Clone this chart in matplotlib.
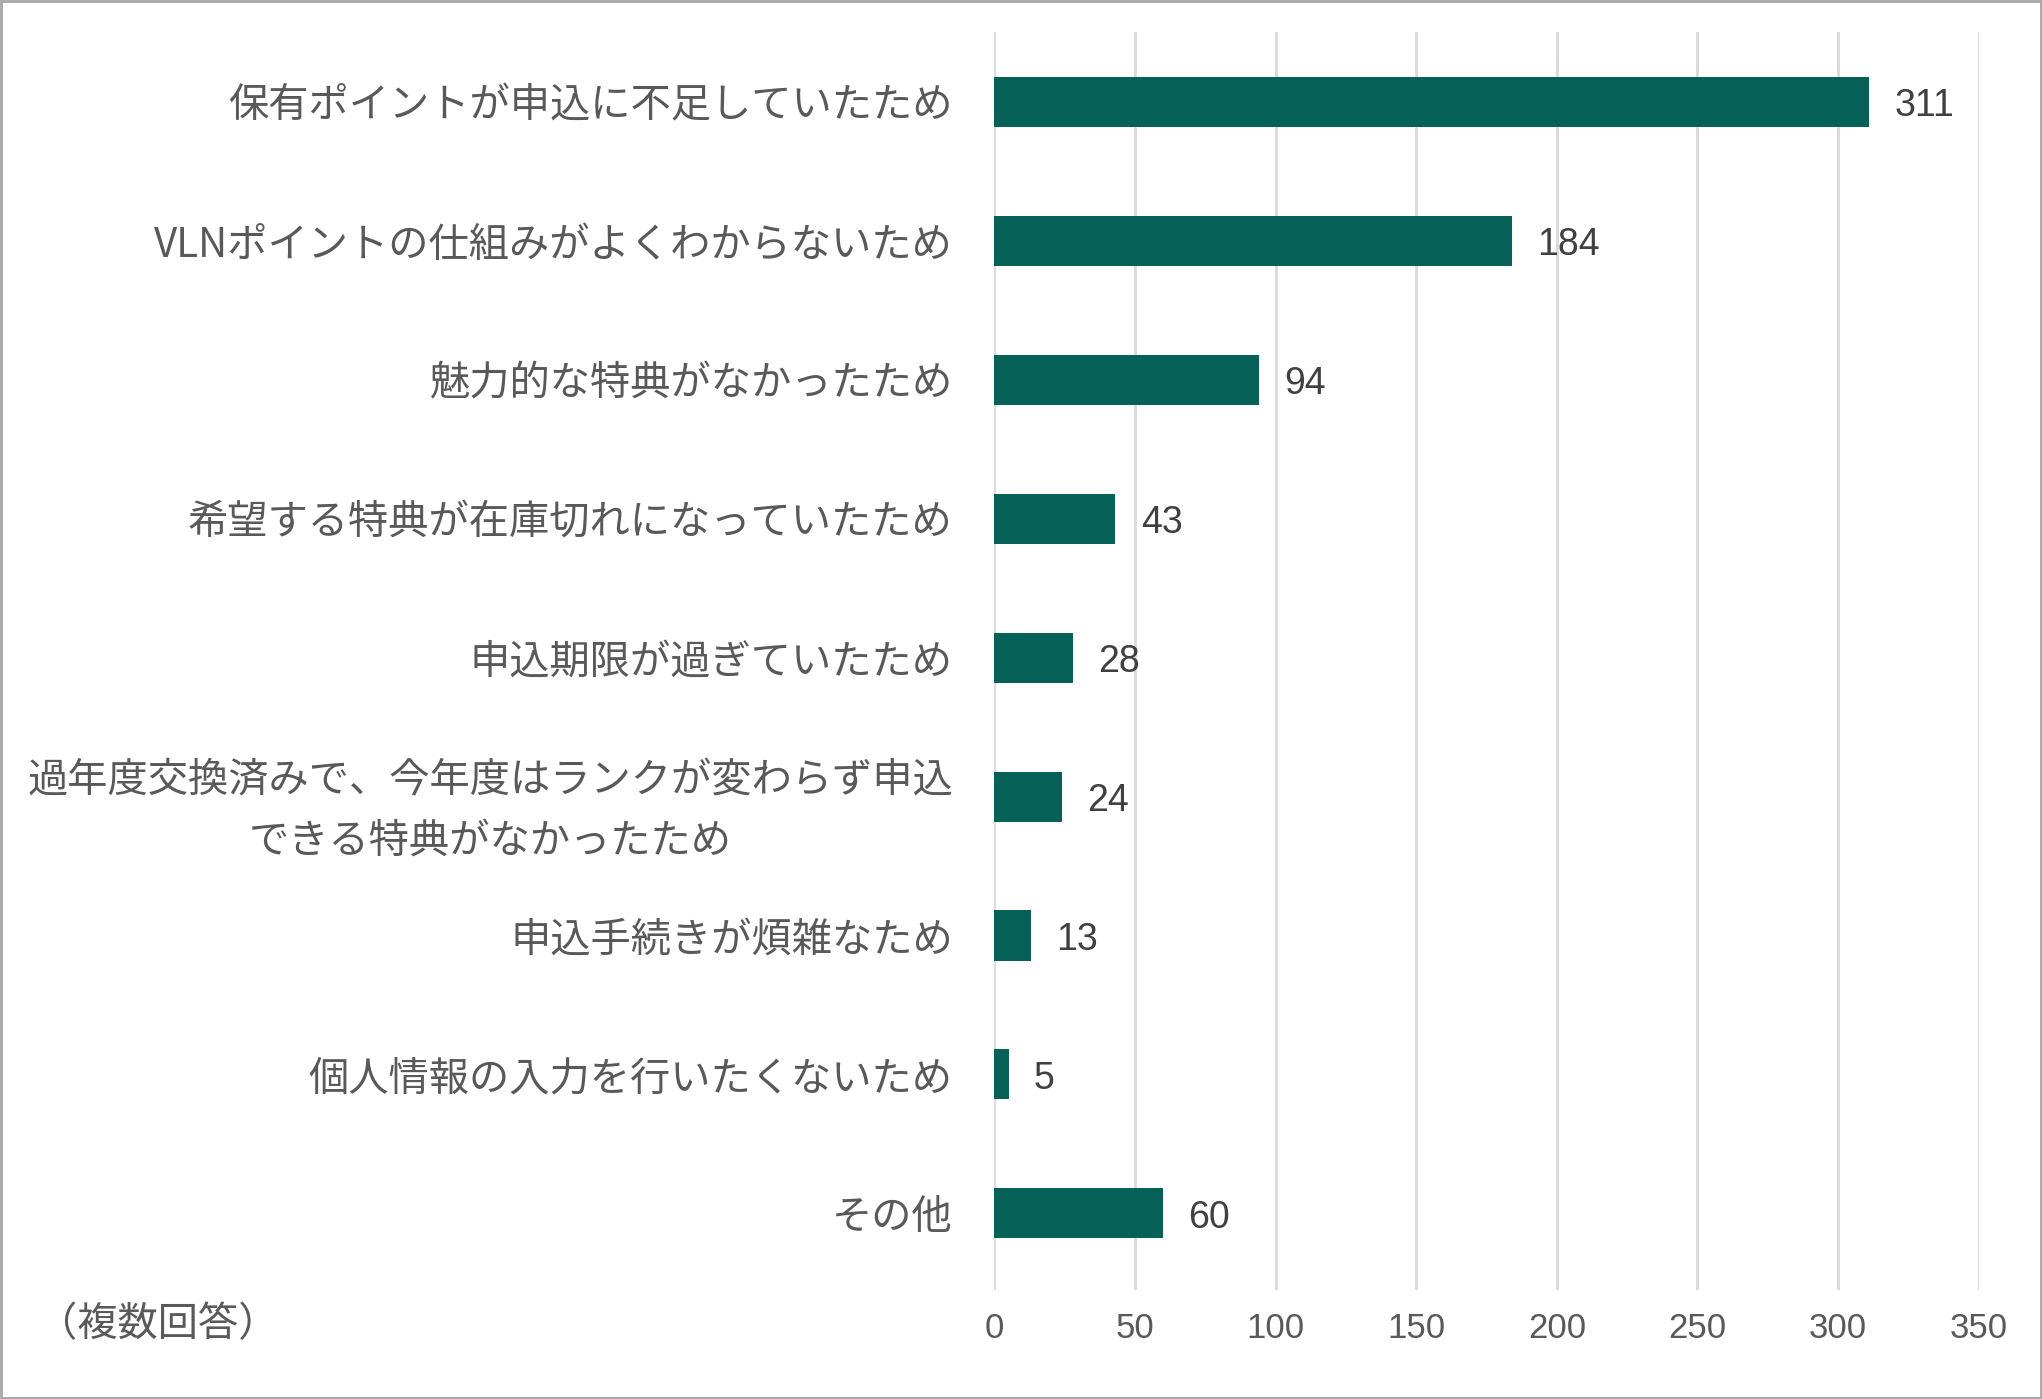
import matplotlib
matplotlib.use("Agg")
import matplotlib.pyplot as plt
from matplotlib.patches import Rectangle

plt.rcParams['font.family'] = ['Noto Sans CJK JP', 'DejaVu Sans']

categories = ["保有ポイントが申込に不足していたため",
              "VLNポイントの仕組みがよくわからないため",
              "魅力的な特典がなかったため",
              "希望する特典が在庫切れになっていたため",
              "申込期限が過ぎていたため",
              "過年度交換済みで、今年度はランクが変わらず申込\nできる特典がなかったため",
              "申込手続きが煩雑なため",
              "個人情報の入力を行いたくないため",
              "その他"]
values = [311, 184, 94, 43, 28, 24, 13, 5, 60]
ticks = [0, 50, 100, 150, 200, 250, 300, 350]

num_font = ['Liberation Sans', 'DejaVu Sans']

fig = plt.figure(figsize=(20.42, 13.99), dpi=100)
ax = fig.add_axes([0.487, 0.078, 0.482, 0.899])
y = list(range(len(values)))
ax.barh(y, values, height=0.36, color='#066258', zorder=3)
ax.set_ylim(len(values) - 0.45, -0.5)
ax.set_xlim(0, 350)
ax.set_xticks(ticks)
ax.set_xticklabels([str(t) for t in ticks], family=num_font, fontsize=25, color='#595959')
ax.tick_params(axis='x', length=0, pad=16)
ax.tick_params(axis='y', length=0, pad=30)
ax.set_yticks(y)
ax.set_yticklabels(categories, fontsize=29, color='#595959', linespacing=1.6)
for lbl in ax.get_yticklabels():
    lbl.set_multialignment('center')
ax.grid(axis='x', color='#d9d9d9', linewidth=2, zorder=0)
for s in ax.spines.values():
    s.set_visible(False)
for yi, v in zip(y, values):
    ax.text(v + 9, yi + 0.03, str(v), va='center', ha='left', fontsize=27,
            color='#404040', family=num_font)
fig.text(0.018, 0.053, "（複数回答）", fontsize=29, color='#595959', va='center')
fig.patches.append(Rectangle((0.0005, 0.0005), 0.999, 0.999, transform=fig.transFigure,
                             fill=False, edgecolor='#a6a6a6', linewidth=2))
fig.savefig("out.png", dpi=100)
